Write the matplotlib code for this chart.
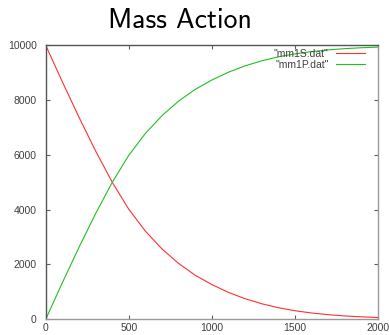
import matplotlib
matplotlib.use("Agg")
import matplotlib.pyplot as plt

# time points and species counts from the mass-action run
time = [0, 100, 200, 300, 400, 500, 600, 700, 800, 900, 1000,
        1100, 1200, 1300, 1400, 1500, 1600, 1700, 1800, 1900, 2000]
substrate = [10000, 8670, 7380, 6150, 5010, 4020, 3220, 2570, 2040, 1610, 1270,
             984, 753, 569, 424, 314, 231, 169, 123, 90, 66]
product = [0, 1330, 2620, 3850, 4990, 5980, 6780, 7430, 7960, 8390, 8730,
           9016, 9247, 9431, 9576, 9686, 9769, 9831, 9877, 9910, 9934]

x_ticks = [0, 500, 1000, 1500, 2000]
y_ticks = [0, 2000, 4000, 6000, 8000, 10000]

plt.rcParams["font.family"] = ["Liberation Sans", "DejaVu Sans"]

fig = plt.figure(figsize=(3.89, 3.35), dpi=100)
ax = fig.add_axes([0.1175, 0.0469, 0.8535, 0.8179])

ax.plot(time, substrate, color="#ff3030", lw=0.8, label='"mm1S.dat"')
ax.plot(time, product, color="#20c020", lw=0.8, label='"mm1P.dat"')

ax.set_xlim(0, 2000)
ax.set_ylim(0, 10000)
ax.set_xticks(x_ticks)
ax.set_yticks(y_ticks)
ax.tick_params(direction="in", length=3, width=0.8, color="#606060",
               labelsize=7.5, labelcolor="#404040", top=True, right=True)
ax.tick_params(axis="x", pad=2.5)
ax.tick_params(axis="y", pad=6.5)
for side in ["top", "left"]:
    ax.spines[side].set_color("#555555")
for side in ["bottom", "right"]:
    ax.spines[side].set_color("#999999")
for sp in ax.spines.values():
    sp.set_linewidth(1.0)

leg = ax.legend(loc="upper right", bbox_to_anchor=(0.963, 0.988), frameon=False,
                markerfirst=False, fontsize=7.5, handlelength=2.8,
                handletextpad=0.75, labelspacing=0.1, borderpad=0,
                borderaxespad=0)
for t in leg.get_texts():
    t.set_color("#404040")

fig.text(180 / 389, 1 - 20 / 335, "Mass Action", family="cmss10", fontsize=20,
         ha="center", va="center", color="black")

fig.savefig("out.png", dpi=100)
